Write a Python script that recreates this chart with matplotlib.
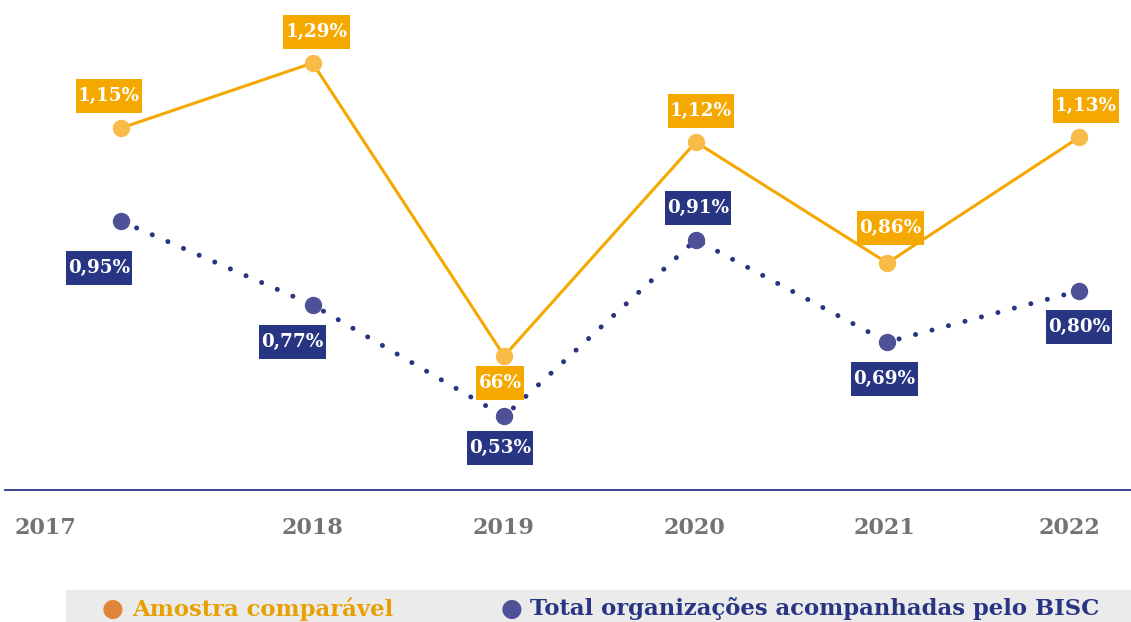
import numpy as np
import matplotlib
matplotlib.use("Agg")
import matplotlib.pyplot as plt
from matplotlib.patches import Rectangle
from matplotlib.path import Path

# data
anos = ["2017", "2018", "2019", "2020", "2021", "2022"]
amostra = [1.15, 1.29, 0.66, 1.12, 0.86, 1.13]
amostra_txt = ["1,15%", "1,29%", "66%", "1,12%", "0,86%", "1,13%"]
total = [0.95, 0.77, 0.53, 0.91, 0.69, 0.80]
total_txt = ["0,95%", "0,77%", "0,53%", "0,91%", "0,69%", "0,80%"]

# label offsets in pixels (dx, dy up)
off_am = [(-12, 32), (4, 31), (-4, -27), (5, 31), (3, 35), (7, 31)]
off_tot = [(-22, -47), (-20, -37), (-4, -32), (2, 32), (-3, -37), (0, -36)]
off_ano = [-76, 0, -1, -1, -3, -10]

laranja = "#F5A800"
laranja_pt = "#F9BB48"
azul = "#283583"
azul_pt = "#4E5196"
fonte = "DejaVu Serif"


def caixa(x0, y0, width, height, mutation_size):
    # tight horizontally, taller vertically
    px = 0.12 * mutation_size
    py = 0.44 * mutation_size
    x0, y0 = x0 - px, y0 - py
    x1, y1 = x0 + width + 2 * px, y0 + height + 2 * py
    return Path([(x0, y0), (x1, y0), (x1, y1), (x0, y1), (x0, y0)], closed=True)


W, H = 1131, 622
fig = plt.figure(figsize=(W / 100, H / 100), dpi=100)
ax = fig.add_axes([5 / W, 132 / H, 1 - 5 / W, 490 / H])

x = np.arange(len(anos))
step = 191.6
ax.set_xlim(-116 / step, 5 + 52 / step)
ax.set_ylim(1.29 - 427 / 465, 1.29 + 63 / 465)

ax.plot(x, amostra, color=laranja, lw=2.2, zorder=2)
ax.plot(x, amostra, "o", color=laranja_pt, ms=11.5, zorder=3)
ax.plot(x, total, color=azul, lw=3.6, dashes=(0.01, 3.4),
        dash_capstyle="round", zorder=2)
ax.plot(x, total, "o", color=azul_pt, ms=11.5, zorder=3)

for i in range(len(anos)):
    ax.annotate(amostra_txt[i], (x[i], amostra[i]), xytext=off_am[i],
                textcoords="offset pixels", ha="center", va="center",
                color="white", fontsize=13.2, fontweight="bold", family=fonte,
                bbox=dict(boxstyle=caixa, fc=laranja, ec="none"),
                zorder=4)
    ax.annotate(total_txt[i], (x[i], total[i]), xytext=off_tot[i],
                textcoords="offset pixels", ha="center", va="center",
                color="white", fontsize=13.2, fontweight="bold", family=fonte,
                bbox=dict(boxstyle=caixa, fc=azul, ec="none"),
                zorder=4)
    ax.annotate(anos[i], (x[i], 0), xycoords=("data", "axes fraction"),
                xytext=(off_ano[i], -38), textcoords="offset pixels",
                ha="center", va="center", color="#737373", fontsize=16,
                fontweight="bold", family=fonte)

for s in ["top", "right", "left"]:
    ax.spines[s].set_visible(False)
ax.spines["bottom"].set_color(azul)
ax.spines["bottom"].set_linewidth(1.3)
ax.set_xticks([])
ax.set_yticks([])

# legend band
fig.patches.append(Rectangle((66 / W, 0), 1 - 66 / W, 32 / H,
                             transform=fig.transFigure, color="#EBEBEB", zorder=0))
fig.text(113 / W, 1 - 609 / H, "\u25CF", color="#E0843A", fontsize=18,
         ha="center", va="center", family="DejaVu Sans")
fig.text(132 / W, 1 - 609 / H, "Amostra comparável", color="#E8A000",
         fontsize=16.4, fontweight="bold", family=fonte, va="center")
fig.text(512 / W, 1 - 609 / H, "\u25CF", color=azul_pt, fontsize=18,
         ha="center", va="center", family="DejaVu Sans")
fig.text(530 / W, 1 - 609 / H, "Total organizações acompanhadas pelo BISC",
         color=azul, fontsize=16.4, fontweight="bold", family=fonte, va="center")

fig.savefig("out.png", dpi=100)
